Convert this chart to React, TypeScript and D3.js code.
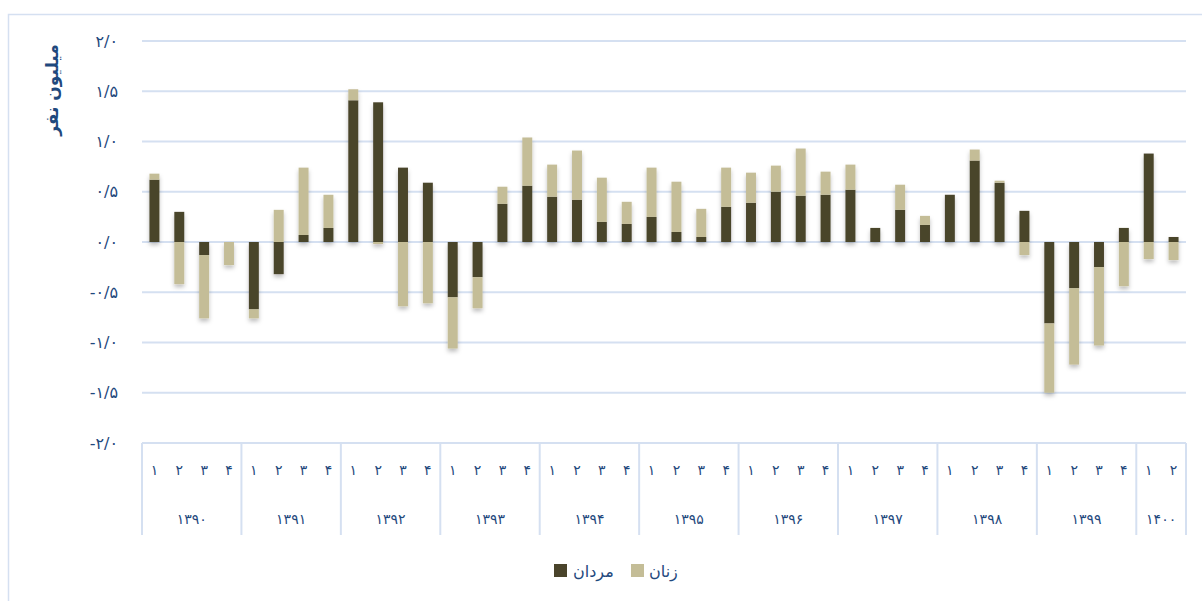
import React from 'react';
import * as d3 from 'd3';

// quarterly change, million persons
const years = ['۱۳۹۰', '۱۳۹۱', '۱۳۹۲', '۱۳۹۳', '۱۳۹۴', '۱۳۹۵', '۱۳۹۶', '۱۳۹۷', '۱۳۹۸', '۱۳۹۹', '۱۴۰۰'];
const quartersPerYear = [4, 4, 4, 4, 4, 4, 4, 4, 4, 4, 2];
const quarterLabels = ['۱', '۲', '۳', '۴'];

const men = [
  0.62, 0.30, -0.13, 0,
  -0.67, -0.32, 0.07, 0.14,
  1.41, 1.39, 0.74, 0.59,
  -0.55, -0.35, 0.38, 0.56,
  0.45, 0.42, 0.20, 0.18,
  0.25, 0.10, 0.05, 0.35,
  0.39, 0.50, 0.46, 0.47,
  0.52, 0.14, 0.32, 0.17,
  0.47, 0.81, 0.59, 0.31,
  -0.81, -0.46, -0.25, 0.14,
  0.88, 0.05,
];
const women = [
  0.06, -0.42, -0.63, -0.23,
  -0.09, 0.32, 0.67, 0.33,
  0.11, -0.02, -0.64, -0.61,
  -0.51, -0.31, 0.17, 0.48,
  0.32, 0.49, 0.44, 0.22,
  0.49, 0.50, 0.28, 0.39,
  0.30, 0.26, 0.47, 0.23,
  0.25, 0, 0.25, 0.09,
  0, 0.11, 0.02, -0.13,
  -0.69, -0.76, -0.78, -0.44,
  -0.17, -0.18,
];

const yTicks = [-2, -1.5, -1, -0.5, 0, 0.5, 1, 1.5, 2];
const seriesNames = { men: 'مردان', women: 'زنان' };
const colors = { men: '#4a442b', women: '#c4bd97' };

const toFa = (s: string) => s.replace(/\d/g, d => '۰۱۲۳۴۵۶۷۸۹'[+d]);
const fmt = (v: number) => (v < 0 ? '-' : '') + toFa(Math.abs(v).toFixed(1)).replace('.', '/');

const W = 1202;
const H = 601;
const margin = { left: 142, right: 14, top: 41, bottom: 158 };
const textColor = '#1f497d';
const gridColor = '#d5e0f1';
const font = '"DejaVu Sans", sans-serif';

export default function App() {
  // build rows: one per quarter
  const rows: { key: string; q: string; men: number; women: number }[] = [];
  years.forEach((yr, yi) => {
    for (let q = 0; q < quartersPerYear[yi]; q++) {
      const i = rows.length;
      rows.push({ key: `${yr}-${q}`, q: quarterLabels[q], men: men[i], women: women[i] });
    }
  });

  const x = d3.scaleBand()
    .domain(rows.map(r => r.key))
    .range([margin.left, W - margin.right - 2])
    .paddingInner(0.6)
    .paddingOuter(0.3);

  const y = d3.scaleLinear().domain([-2, 2]).range([H - margin.bottom, margin.top]);

  const stack = d3.stack<any>().keys(['men', 'women']).offset(d3.stackOffsetDiverging);
  const series = stack(rows);

  const step = x.step();
  const x0 = margin.left;
  const x1 = W - margin.right - 2;
  const axisY = y(-2);

  // year boundaries
  let acc = 0;
  const bounds = [x0];
  const yearCenters: number[] = [];
  quartersPerYear.forEach(n => {
    const start = x0 + acc * step;
    acc += n;
    const end = x0 + acc * step;
    bounds.push(end);
    yearCenters.push((start + end) / 2);
  });

  return (
    <svg width={W} height={H} style={{ position: 'absolute', left: 0, top: 0, background: '#fff' }} fontFamily={font}>
      <defs>
        <filter id="shadow" x="-50%" y="-20%" width="200%" height="150%">
          <feDropShadow dx="0" dy="3" stdDeviation="2" floodColor="#000" floodOpacity="0.25" />
        </filter>
      </defs>

      {/* chart area border */}
      <rect x={8.5} y={14.5} width={1200} height={600} fill="none" stroke={gridColor} strokeWidth={1.5} />

      {/* grid */}
      {yTicks.map(t => (
        <g key={t}>
          <line x1={x0} x2={x1} y1={y(t)} y2={y(t)} stroke={gridColor} strokeWidth={2} />
          <text x={118} y={y(t)} dy="0.35em" textAnchor="end" fontSize={16} fill={textColor}>{fmt(t)}</text>
        </g>
      ))}

      {/* y title */}
      <text transform={`translate(58,${90}) rotate(-90)`} textAnchor="middle" fontSize={17} fontWeight="bold" fill={textColor} direction="rtl">
        میلیون نفر
      </text>

      {/* bars */}
      <g filter="url(#shadow)">
        {series.map(s => (
          <g key={s.key} fill={colors[s.key as 'men' | 'women']}>
            {s.map((d, i) => {
              const top = y(Math.max(d[0], d[1]));
              const h = Math.abs(y(d[0]) - y(d[1]));
              if (h < 0.01) return null;
              return <rect key={i} x={x(rows[i].key)} y={top} width={x.bandwidth()} height={h} />;
            })}
          </g>
        ))}
      </g>

      {/* category table */}
      <line x1={x0} x2={x1} y1={axisY} y2={axisY} stroke={gridColor} strokeWidth={2} />
      {bounds.map((b, i) => (
        <line key={i} x1={b} x2={b} y1={axisY} y2={535} stroke={gridColor} strokeWidth={2} />
      ))}
      {rows.map(r => (
        <text key={r.key} x={(x(r.key) as number) + x.bandwidth() / 2} y={470} dy="0.35em" textAnchor="middle" fontSize={14} fill={textColor}>
          {r.q}
        </text>
      ))}
      {years.map((yr, i) => (
        <text key={yr} x={yearCenters[i]} y={519} dy="0.35em" textAnchor="middle" fontSize={14} fill={textColor}>
          {yr}
        </text>
      ))}

      {/* legend */}
      <rect x={554} y={564} width={13} height={13} fill={colors.men} />
      <text x={573} y={571} dy="0.35em" fontSize={16} fill={textColor}>{seriesNames.men}</text>
      <rect x={631} y={564} width={13} height={13} fill={colors.women} />
      <text x={649} y={571} dy="0.35em" fontSize={16} fill={textColor}>{seriesNames.women}</text>
    </svg>
  );
}
